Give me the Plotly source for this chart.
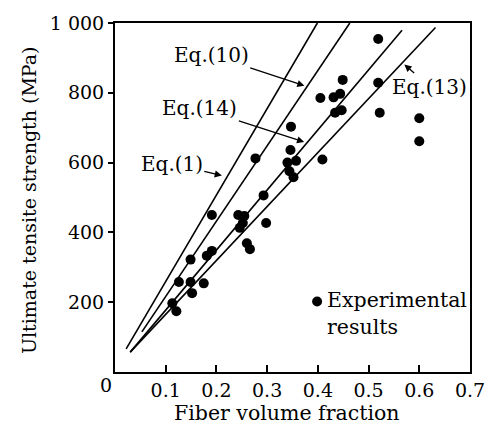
import plotly.graph_objects as go

# Experimental results (fiber volume fraction, ultimate tensile strength MPa)
vf = [0.113, 0.121, 0.126, 0.149, 0.152, 0.149, 0.175, 0.181, 0.191, 0.191,
      0.243, 0.255, 0.252, 0.246, 0.260, 0.266, 0.298, 0.277, 0.293, 0.340,
      0.346, 0.347, 0.357, 0.344, 0.352, 0.409, 0.405, 0.431, 0.444, 0.434,
      0.447, 0.449, 0.519, 0.519, 0.522, 0.600, 0.600]
uts = [197, 174, 258, 258, 226, 322, 254, 333, 347, 450,
       450, 447, 427, 413, 369, 352, 427, 612, 506, 600,
       636, 703, 605, 575, 558, 609, 785, 787, 797, 743,
       750, 837, 954, 829, 743, 727, 661]

# Theoretical lines (start / end points)
eq1_x = [0.022, 0.399]
eq1_y = [66, 1000]
eq10_x = [0.053, 0.463]
eq10_y = [115, 1000]
eq14_x = [0.030, 0.566]
eq14_y = [57, 979]
eq13_x = [0.030, 0.632]
eq13_y = [57, 987]

x_ticks = [0.1, 0.2, 0.3, 0.4, 0.5, 0.6, 0.7]
x_ticktext = ["0.1", "0.2", "0.3", "0.4", "0.5", "0.6", "0.7"]
y_ticks = [200, 400, 600, 800, 1000]
y_ticktext = ["200", "400", "600", "800", "1 000"]

FONT = "DejaVu Serif"

fig = go.Figure()
for xs, ys in [(eq1_x, eq1_y), (eq10_x, eq10_y), (eq14_x, eq14_y), (eq13_x, eq13_y)]:
    fig.add_trace(go.Scatter(x=xs, y=ys, mode="lines",
                             line=dict(color="black", width=1.6),
                             showlegend=False, hoverinfo="skip"))

fig.add_trace(go.Scatter(x=vf, y=uts, mode="markers",
                         marker=dict(color="black", size=10),
                         name=" ", showlegend=True))

arrows = [
    ("Eq.(10)", 0.3735, 820, 0.1897, 908),
    ("Eq.(14)", 0.373, 659, 0.1673, 756),
    ("Eq.(1)", 0.2107, 563, 0.1119, 596),
    ("Eq.(13)", 0.5706, 881, 0.6206, 818),
]
for txt, hx, hy, tx, ty in arrows:
    fig.add_annotation(x=hx, y=hy, ax=tx, ay=ty, axref="x", ayref="y",
                       xref="x", yref="y", text=txt, showarrow=True,
                       arrowhead=2, arrowsize=1.1, arrowwidth=1.3,
                       arrowcolor="black",
                       font=dict(family=FONT, size=20, color="black"))

# legend text
fig.add_annotation(xref="paper", yref="paper", x=0.5914, y=0.245,
                   text="Experimental<br>results", showarrow=False,
                   xanchor="left", yanchor="top", align="left",
                   font=dict(family=FONT, size=20.5, color="black"))

fig.add_annotation(xref="paper", yref="paper", x=0.485, y=-0.118,
                   text="Fiber volume fraction", showarrow=False,
                   xanchor="center", yanchor="middle",
                   font=dict(family=FONT, size=20.5, color="black"))
fig.add_annotation(xref="paper", yref="paper", x=-0.244, y=0.494,
                   text="Ultimate tensite strength (MPa)", showarrow=False,
                   textangle=-90, xanchor="center", yanchor="middle",
                   font=dict(family=FONT, size=19, color="black"))
fig.add_annotation(xref="paper", yref="paper", x=-0.025, y=-0.0365,
                   text="0", showarrow=False,
                   xanchor="center", yanchor="middle",
                   font=dict(family=FONT, size=19, color="black"))

fig.update_layout(
    width=497, height=437,
    margin=dict(l=115, r=21, t=16, b=65),
    paper_bgcolor="white", plot_bgcolor="white",
    font=dict(family=FONT, size=19, color="black"),
    legend=dict(x=0.513, y=0.256, xanchor="left", yanchor="top",
                bgcolor="rgba(0,0,0,0)", valign="top",
                font=dict(family=FONT, size=19, color="black"),
                itemwidth=30, tracegroupgap=0),
)
fig.update_xaxes(range=[0, 0.7], tickvals=x_ticks, ticktext=x_ticktext,
                 ticks="inside", ticklen=7, tickwidth=1.5, tickcolor="black",
                 showline=True, linewidth=2, linecolor="black", mirror=True,
                 showgrid=False, zeroline=False,
                 tickfont=dict(family=FONT, size=19, color="black"))
fig.update_yaxes(range=[0, 1000], tickvals=y_ticks, ticktext=y_ticktext,
                 ticks="outside", ticklen=5, tickwidth=1.5, tickcolor="black",
                 showline=True, linewidth=2, linecolor="black", mirror=True,
                 showgrid=False, zeroline=False,
                 tickfont=dict(family=FONT, size=19, color="black"))

fig.write_html("out.html")
